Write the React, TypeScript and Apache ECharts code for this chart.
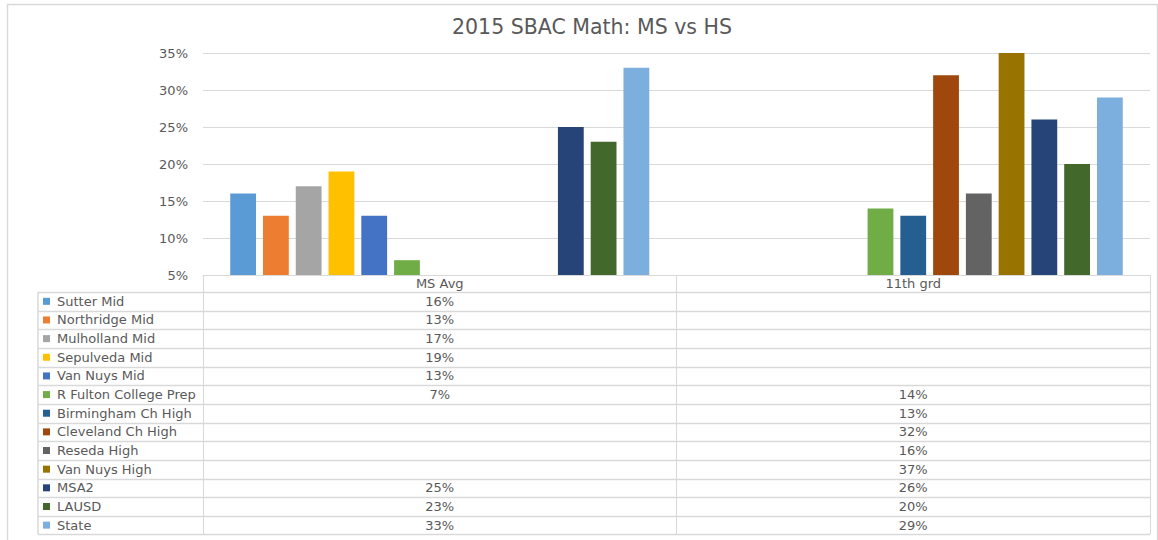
import React, { useEffect, useRef } from "react";
import * as echarts from "echarts";

const categories = ["MS Avg", "11th grd"];
const seriesNames = [
  "Sutter Mid",
  "Northridge Mid",
  "Mulholland Mid",
  "Sepulveda Mid",
  "Van Nuys Mid",
  "R Fulton College Prep",
  "Birmingham Ch High",
  "Cleveland Ch High",
  "Reseda High",
  "Van Nuys High",
  "MSA2",
  "LAUSD",
  "State",
];
const msAvg: (number | null)[] = [16, 13, 17, 19, 13, 7, null, null, null, null, 25, 23, 33];
const grade11: (number | null)[] = [null, null, null, null, null, 14, 13, 32, 16, 37, 26, 20, 29];
const seriesColors = [
  "#5B9BD5",
  "#ED7D31",
  "#A5A5A5",
  "#FFC000",
  "#4472C4",
  "#70AD47",
  "#255E91",
  "#9E480E",
  "#636363",
  "#997300",
  "#264478",
  "#43682B",
  "#7CAFDD",
];
const yTicks = { min: 5, max: 35, interval: 5 };

const FONT = "'DejaVu Sans', sans-serif";
const TXT = "#595959";
const LINE = "#d9d9d9";
const FS = 13;

export default function App() {
  const ref = useRef<HTMLDivElement>(null);
  useEffect(() => {
    if (!ref.current) return;
    const chart = echarts.init(ref.current, undefined, { renderer: "svg" });
    const gridLeft = 203;
    const gridRight = 8;
    const gridTop = 53;
    const axisY = 275;
    const H = 540;
    const W = 1158;
    const rowTop = 292;
    const rowH = 18.65;
    const tableLeft = 38;
    const tableRight = W - gridRight;

    const series = seriesNames.map((name, i) => ({
      name,
      type: "bar",
      data: [msAvg[i], grade11[i]],
      itemStyle: { color: seriesColors[i] },
      barGap: "27%",
      barCategoryGap: "11.5%",
      clip: true,
    }));

    chart.setOption({
      animation: false,
      textStyle: { fontFamily: FONT },
      title: {
        text: "2015 SBAC Math: MS vs HS",
        left: 447,
        top: 11,
        textStyle: { fontFamily: FONT, fontSize: 20.5, fontWeight: "normal", color: TXT },
      },
      grid: { left: gridLeft, right: gridRight, top: gridTop, bottom: H - axisY, containLabel: false },
      xAxis: {
        type: "category",
        data: categories,
        axisLine: { show: true, lineStyle: { color: LINE, width: 1 } },
        axisTick: { show: true, length: rowTop + 13 * rowH - axisY, lineStyle: { color: LINE } },
        axisLabel: { color: TXT, fontSize: FS, fontFamily: FONT, margin: 2 },
      },
      yAxis: {
        type: "value",
        min: yTicks.min,
        max: yTicks.max,
        interval: yTicks.interval,
        axisLine: { show: false },
        axisTick: { show: false },
        splitLine: { lineStyle: { color: LINE, width: 1 } },
        axisLabel: { formatter: "{value}%", color: TXT, fontSize: FS, fontFamily: FONT, margin: 15 },
      },
      series,
    });

    const cx = categories.map((c) => chart.convertToPixel({ xAxisIndex: 0 }, c) as number);
    const graphic: any[] = [];
    graphic.push({
      type: "rect",
      shape: { x: 7.5, y: 4.5, width: W - 8, height: H + 20 },
      style: { fill: "none", stroke: LINE, lineWidth: 1.5 },
      silent: true,
      z: -10,
    });
    for (let k = 0; k <= seriesNames.length; k++) {
      const y = Math.round(rowTop + k * rowH) + 0.5;
      graphic.push({
        type: "line",
        shape: { x1: tableLeft, y1: y, x2: tableRight, y2: y },
        style: { stroke: LINE, lineWidth: 1.5 },
        silent: true,
      });
    }
    graphic.push({
      type: "line",
      shape: { x1: tableLeft, y1: rowTop, x2: tableLeft, y2: rowTop + seriesNames.length * rowH },
      style: { stroke: LINE, lineWidth: 1.5 },
      silent: true,
    });
    seriesNames.forEach((name, i) => {
      const yc = rowTop + (i + 0.5) * rowH;
      graphic.push({
        type: "rect",
        shape: { x: 43, y: yc - 3.5, width: 7, height: 7 },
        style: { fill: seriesColors[i] },
        silent: true,
      });
      graphic.push({
        type: "text",
        x: 57,
        y: yc,
        style: { text: name, fill: TXT, font: `${FS}px ${FONT}`, textVerticalAlign: "middle", textAlign: "left" },
        silent: true,
      });
      [msAvg[i], grade11[i]].forEach((v, j) => {
        if (v === null) return;
        graphic.push({
          type: "text",
          x: cx[j],
          y: yc,
          style: { text: `${v}%`, fill: TXT, font: `${FS}px ${FONT}`, textVerticalAlign: "middle", textAlign: "center" },
          silent: true,
        });
      });
    });
    chart.setOption({ graphic });

    return () => chart.dispose();
  }, []);
  return (
    <div
      ref={ref}
      style={{ position: "fixed", left: 0, top: 0, width: 1158, height: 540, background: "#fff" }}
    />
  );
}
